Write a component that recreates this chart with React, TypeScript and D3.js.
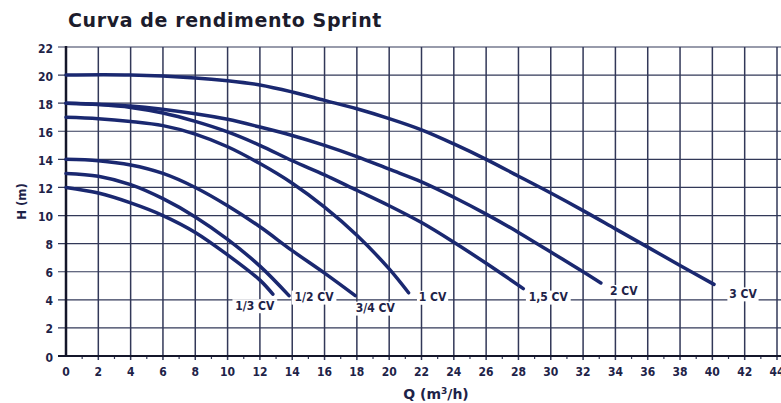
import * as d3 from 'd3';
import React from 'react';

// pump curves, Q (m3/h) vs H (m), read from the sheet
const cv13: [number, number][] = [[0, 12], [2, 11.6], [4, 10.9], [6, 10.0], [8, 8.8], [10, 7.2], [12, 5.4], [12.8, 4.4]];
const cv12: [number, number][] = [[0, 13], [2, 12.8], [4, 12.2], [6, 11.2], [8, 9.9], [10, 8.3], [12, 6.4], [13.8, 4.3]];
const cv34: [number, number][] = [[0, 14], [2, 13.9], [4, 13.6], [6, 13.0], [8, 12.0], [10, 10.7], [12, 9.2], [14, 7.5], [16, 5.9], [17.9, 4.3]];
const cv1: [number, number][] = [[0, 17], [2, 16.9], [4, 16.7], [6, 16.4], [8, 15.8], [10, 14.9], [12, 13.7], [14, 12.3], [16, 10.6], [18, 8.6], [20, 6.2], [21.2, 4.5]];
const cv15: [number, number][] = [[0, 18], [2, 17.9], [4, 17.7], [6, 17.3], [8, 16.7], [10, 15.95], [12, 15], [14, 13.9], [16, 12.9], [18, 11.8], [20, 10.7], [22, 9.5], [24, 8.1], [26, 6.6], [28.3, 4.8]];
const cv2: [number, number][] = [[0, 18], [4, 17.8], [8, 17.25], [10, 16.85], [12, 16.3], [14, 15.7], [16, 15], [18, 14.2], [20, 13.3], [22, 12.4], [24, 11.3], [26, 10.1], [28, 8.8], [30, 7.4], [32, 6.0], [33.1, 5.2]];
const cv3: [number, number][] = [[0, 20], [4, 20], [8, 19.8], [10, 19.6], [12, 19.3], [14, 18.8], [16, 18.2], [18, 17.6], [20, 16.9], [22, 16.1], [24, 15.1], [26, 14], [28, 12.8], [30, 11.6], [32, 10.35], [34, 9.05], [36, 7.75], [38, 6.45], [40.1, 5.1]];

const seriesNames = ['1/3 CV', '1/2 CV', '3/4 CV', '1 CV', '1,5 CV', '2 CV', '3 CV'];
const seriesData = [cv13, cv12, cv34, cv1, cv15, cv2, cv3];

// label offset from the end of each curve, px
const labelOffsets: [number, number][] = [[-18, 12], [25, 2], [20, 13], [24, 5], [25, 9], [23, 9], [29, 10]];

const qTicks = d3.range(0, 46, 2);
const qMinor = d3.range(1, 45, 2);
const hTicks = d3.range(0, 24, 2);

const W = 781;
const H = 403;
const ink = '#1e2348';
const curveColor = '#1a2870';
const gridColor = '#323858';
const font = '"DejaVu Sans Condensed", "DejaVu Sans", sans-serif';

export default function App() {
  const x = d3.scaleLinear().domain([0, 44]).range([66, 777]);
  const y = d3.scaleLinear().domain([0, 22]).range([356, 47]);

  const line = d3
    .line<[number, number]>()
    .x((d) => x(d[0]))
    .y((d) => y(d[1]))
    .curve(d3.curveCatmullRom.alpha(0.5));

  return (
    <svg
      width={W}
      height={H}
      style={{ position: 'absolute', left: 0, top: 0, background: '#fff' }}
      fontFamily={font}
    >
      <text x={68} y={27} fontFamily='"DejaVu Sans", sans-serif' fontWeight="bold" fontSize={19} letterSpacing={0.6} fill="#1c1c2c">
        Curva de rendimento Sprint
      </text>

      {/* horizontal grid + ticks */}
      {hTicks.map((t) => (
        <g key={'h' + t}>
          {t > 0 && <line x1={58} x2={W} y1={y(t)} y2={y(t)} stroke={gridColor} strokeWidth={1.2} />}
          <text x={53} y={y(t) + 2} textAnchor="end" dominantBaseline="middle" fontSize={12} fontWeight="bold" fill={ink}>
            {t}
          </text>
        </g>
      ))}

      {/* vertical grid + ticks */}
      {qTicks.map((t) => (
        <g key={'v' + t}>
          {t > 0 && <line x1={x(t)} x2={x(t)} y1={y(22)} y2={y(0) + 4} stroke={gridColor} strokeWidth={1.5} />}
          <text x={x(t)} y={y(0) + 16} textAnchor="middle" dominantBaseline="middle" fontSize={12} fontWeight="bold" fill={ink}>
            {t}
          </text>
        </g>
      ))}
      {qMinor.map((t) => (
        <line key={'m' + t} x1={x(t)} x2={x(t)} y1={y(0)} y2={y(0) + 3} stroke={gridColor} strokeWidth={1.2} />
      ))}

      {/* axes */}
      <line x1={x(0)} x2={x(0)} y1={y(22) - 1} y2={y(0) + 1} stroke="#14162a" strokeWidth={2.5} />
      <line x1={58} x2={W} y1={y(0)} y2={y(0)} stroke="#14162a" strokeWidth={2.2} />

      {/* curves */}
      {seriesData.map((d, i) => (
        <path key={'c' + i} d={line(d) ?? ''} fill="none" stroke={curveColor} strokeWidth={3.5} strokeLinecap="round" />
      ))}

      {/* labels */}
      {seriesData.map((d, i) => {
        const end = d[d.length - 1];
        const lx = x(end[0]) + labelOffsets[i][0];
        const ly = y(end[1]) + labelOffsets[i][1];
        const w = seriesNames[i].length * 6.8 + 4;
        return (
          <g key={'l' + i}>
            <rect x={lx - w / 2} y={ly - 7} width={w} height={14} fill="#fff" />
            <text x={lx} y={ly} textAnchor="middle" dominantBaseline="middle" fontSize={12} fontWeight="bold" fill={ink}>
              {seriesNames[i]}
            </text>
          </g>
        );
      })}

      <text
        transform={`translate(22, ${y(11)}) rotate(-90)`}
        textAnchor="middle"
        dominantBaseline="middle"
        fontSize={13}
        fontWeight="bold"
        fill={ink}
      >
        H (m)
      </text>
      <text x={436} y={399} textAnchor="middle" fontFamily='"DejaVu Sans", sans-serif' fontSize={14} fontWeight="bold" fill={ink}>
        Q (m<tspan dy={-5} fontSize={9}>3</tspan>
        <tspan dy={5}>/h)</tspan>
      </text>
    </svg>
  );
}
